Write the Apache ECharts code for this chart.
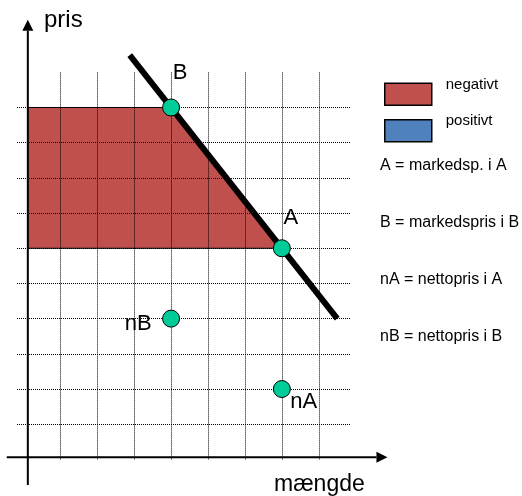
<!DOCTYPE html>
<html>
<head>
<meta charset="utf-8">
<script src="https://cdn.jsdelivr.net/npm/echarts@6/dist/echarts.min.js"></script>
<style>
  html, body { margin: 0; padding: 0; background: #fff; }
  #chart { width: 522px; height: 496px; }
</style>
</head>
<body>
<div id="chart"></div>
<script>
// ---- data (quantity along the horizontal axis, price along the vertical) ----
const gridQ = [1, 2, 3, 4, 5, 6, 7, 8];             // dotted vertical guide lines
const gridP = [1, 2, 3, 4, 5, 6, 7, 8, 9, 10];      // dotted horizontal guide lines

const demandQ = [2.88, 8.5];                         // demand curve end points
const demandP = [11.49, 4.0];

const pointNames = ['B', 'A', 'nB', 'nA'];
const pointQ = [4, 7, 4, 7];
const pointP = [10, 6, 4, 2];

// where the price axis and the quantity axis sit
const AXIS_Q = 0.12;
const AXIS_P = 0.06;
const Q_AXIS_SPAN = [-0.45, 9.86];
const P_AXIS_SPAN = [-0.73, 12.49];

// shaded "negativt" region: from the price axis out to B and down the curve to A
const negativeQ = [AXIS_Q, 4, 7, AXIS_Q];
const negativeP = [10, 10, 6, 6];

const legendNames = ['negativt', 'positivt'];
const notes = ['A = markedsp. i A', 'B = markedspris i B', 'nA = nettopris i A', 'nB = nettopris i B'];

// ---- styling ----
const FONT = '"Liberation Sans", Arial, sans-serif';
const RED = '#C0504D';
const BLUE = '#4F81BD';
const GREEN = '#00CC99';

// label placement next to each point: [dx, dy] from the symbol box, alignment
const labelPlacement = {
  'B':  { position: [10.7, -25.5], align: 'left' },
  'A':  { position: [10.7, -21.4], align: 'left' },
  'nB': { position: [-10.3, 13.9], align: 'right' },
  'nA': { position: [17.4, 22.4], align: 'left' }
};

const chart = echarts.init(document.getElementById('chart'), null, { renderer: 'canvas' });

const noteTops = [158, 215, 272, 329];

const option = {
  backgroundColor: '#fff',
  animation: false,
  title: [
    { text: 'pris', left: 44, top: 8.5, padding: 0,
      textStyle: { fontSize: 24, fontWeight: 'normal', color: '#000', fontFamily: FONT } },
    { text: 'mængde', left: 274, top: 473, padding: 0,
      textStyle: { fontSize: 23, fontWeight: 'normal', color: '#000', fontFamily: FONT } }
  ].concat(notes.map((t, i) => ({
    text: t, left: 380, top: noteTops[i], padding: 0,
    textStyle: { fontSize: 16, fontWeight: 'normal', color: '#000', fontFamily: FONT }
  }))),
  legend: {
    orient: 'vertical',
    left: 384,
    top: 77.3,
    itemWidth: 47,
    itemHeight: 22,
    itemGap: 7.7,
    padding: 0,
    selectedMode: false,
    icon: 'rect',
    itemStyle: { borderColor: '#000', borderWidth: 1.5 },
    formatter: '{t|{name}}',
    textStyle: {
      rich: { t: { fontSize: 15, fontFamily: FONT, color: '#000', padding: [0, 0, 19, 9] } }
    },
    data: legendNames
  },
  grid: { left: 17, top: 72.3, width: 333, height: 387.1, containLabel: false },
  xAxis: { type: 'value', min: -0.1733, max: 8.846, show: false },
  yAxis: { type: 'value', min: 0, max: 11, show: false },
  series: [
    {
      name: 'negativt',
      type: 'custom',
      z: 2,
      silent: true,
      itemStyle: { color: RED },
      data: [0],
      renderItem: function (params, api) {
        const pts = negativeQ.map((q, i) => api.coord([q, negativeP[i]]));
        return {
          type: 'polygon',
          shape: { points: pts },
          style: { fill: RED, stroke: '#000', lineWidth: 1 }
        };
      }
    },
    {
      name: 'positivt',
      type: 'custom',
      z: 2,
      silent: true,
      itemStyle: { color: BLUE },
      data: [],
      renderItem: function () { return null; }
    },
    {
      name: 'guides',
      type: 'line',
      z: 3,
      silent: true,
      data: [],
      markLine: {
        z: 3,
        silent: true,
        symbol: 'none',
        animation: false,
        label: { show: false },
        emphasis: { disabled: true },
        lineStyle: { color: '#000', width: 1, type: [1, 1] },
        data: gridQ.map(q => ({ xAxis: q })).concat(gridP.map(p => ({ yAxis: p })))
      }
    },
    {
      name: 'demand',
      type: 'line',
      z: 4,
      silent: true,
      clip: false,
      showSymbol: false,
      lineStyle: { color: '#000', width: 6, cap: 'butt' },
      data: demandQ.map((q, i) => [q, demandP[i]])
    },
    {
      name: 'axes',
      type: 'custom',
      z: 5,
      silent: true,
      clip: false,
      data: [0],
      renderItem: function (params, api) {
        const LEN = 11, HALF = 5.5;
        const yStart = api.coord([AXIS_Q, P_AXIS_SPAN[0]]);
        const yTip = api.coord([AXIS_Q, P_AXIS_SPAN[1]]);
        const xStart = api.coord([Q_AXIS_SPAN[0], AXIS_P]);
        const xTip = api.coord([Q_AXIS_SPAN[1], AXIS_P]);
        const stroke = { stroke: '#000', lineWidth: 2 };
        return {
          type: 'group',
          children: [
            { type: 'line', shape: { x1: yStart[0], y1: yStart[1], x2: yTip[0], y2: yTip[1] + LEN }, style: stroke },
            { type: 'polygon', shape: { points: [[yTip[0], yTip[1]], [yTip[0] - HALF, yTip[1] + LEN], [yTip[0] + HALF, yTip[1] + LEN]] }, style: { fill: '#000' } },
            { type: 'line', shape: { x1: xStart[0], y1: xStart[1], x2: xTip[0] - LEN, y2: xTip[1] }, style: stroke },
            { type: 'polygon', shape: { points: [[xTip[0], xTip[1]], [xTip[0] - LEN, xTip[1] - HALF], [xTip[0] - LEN, xTip[1] + HALF]] }, style: { fill: '#000' } }
          ]
        };
      }
    },
    {
      name: 'points',
      type: 'scatter',
      z: 6,
      silent: true,
      symbol: 'circle',
      symbolSize: 17,
      itemStyle: { color: GREEN, borderColor: '#000', borderWidth: 1, opacity: 1 },
      data: pointNames.map((n, i) => ({
        name: n,
        value: [pointQ[i], pointP[i]],
        label: {
          show: true,
          formatter: n,
          position: labelPlacement[n].position,
          align: labelPlacement[n].align,
          verticalAlign: 'middle',
          fontSize: 22,
          fontFamily: FONT,
          color: '#000'
        }
      }))
    }
  ]
};

chart.setOption(option);
</script>
</body>
</html>
